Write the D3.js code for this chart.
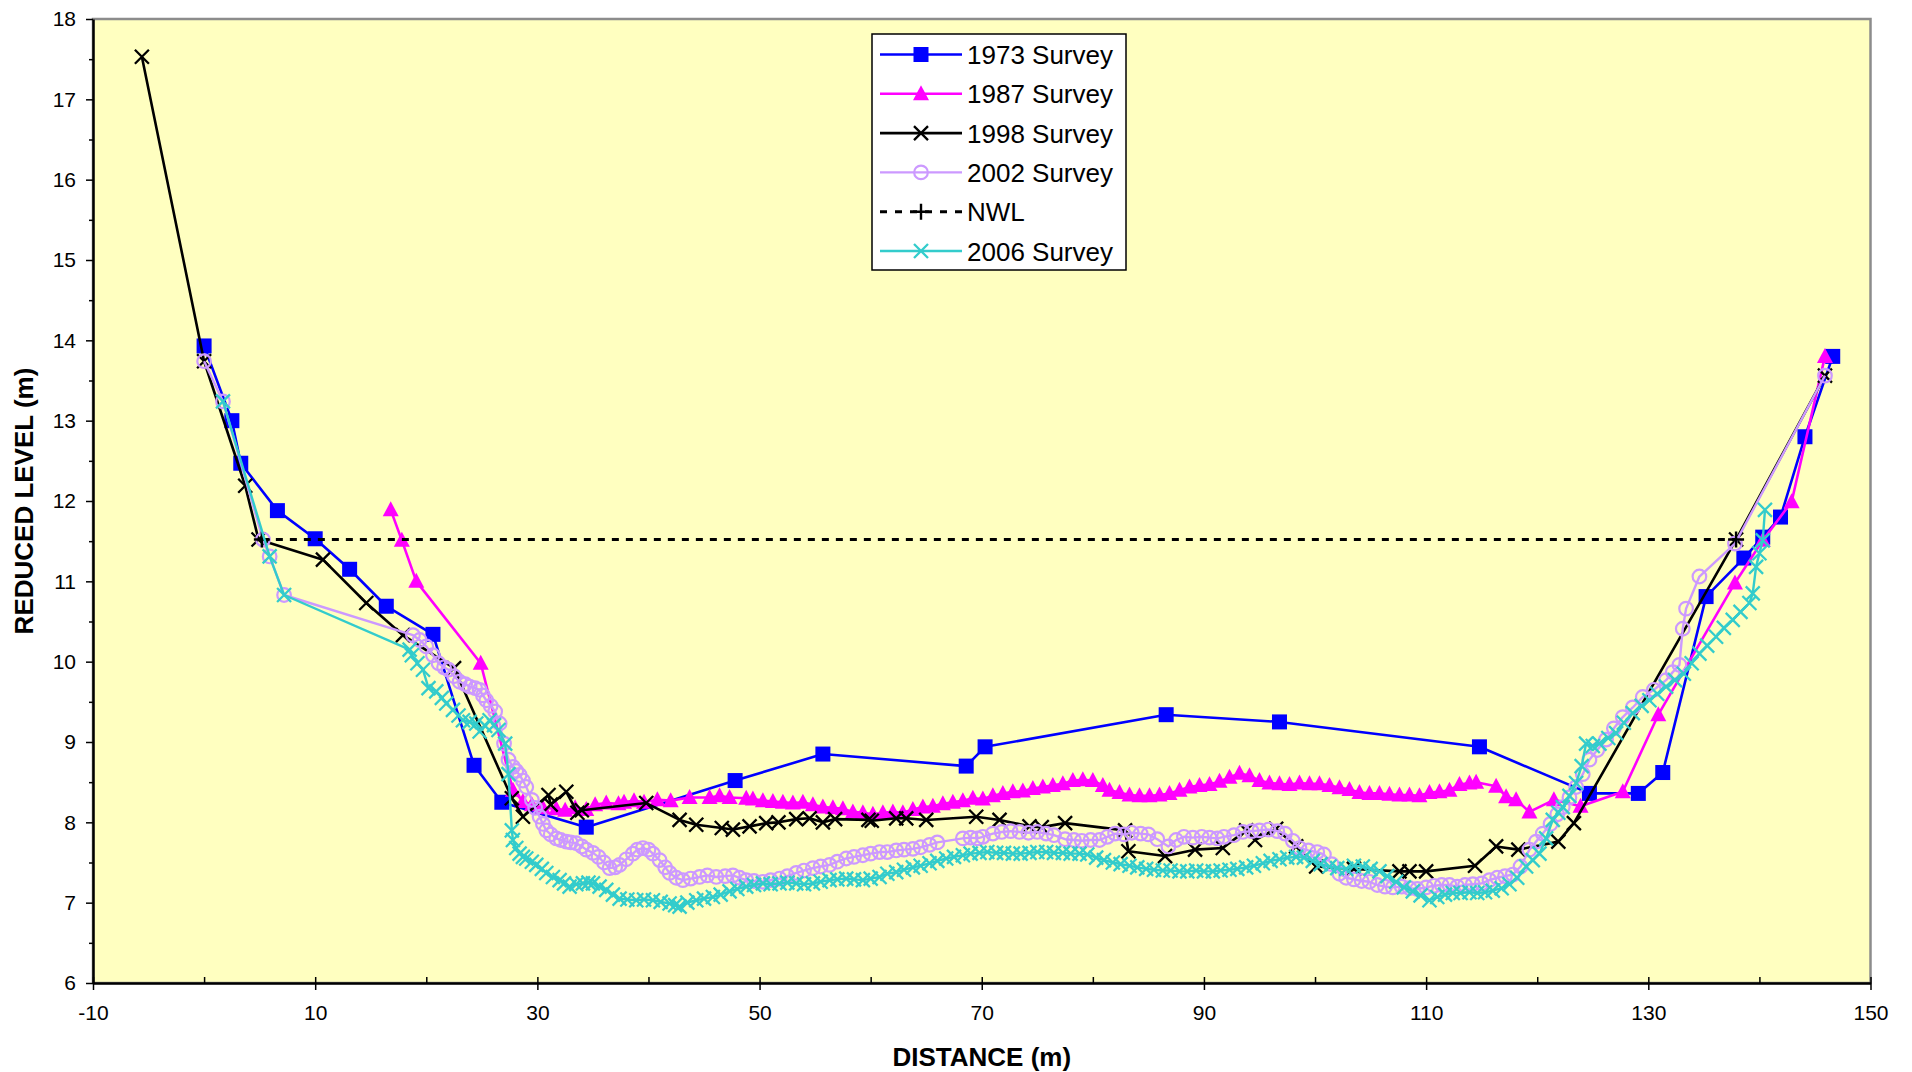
<!DOCTYPE html>
<html>
<head>
<meta charset="utf-8">
<script src="https://cdn.jsdelivr.net/npm/d3@7"></script>
<style>
  html, body { margin: 0; padding: 0; background: #ffffff; }
  svg { display: block; }
  text { font-family: "Liberation Sans", Arial, sans-serif; fill: #000; }
</style>
</head>
<body>
<svg id="chart" width="1912" height="1072"></svg>
<script>
// ---------------- DATA ----------------
const xTickValues = [-10, 10, 30, 50, 70, 90, 110, 130, 150];
const xMinorTicks = [0, 20, 40, 60, 80, 100, 120, 140];
const yTickValues = [6, 7, 8, 9, 10, 11, 12, 13, 14, 15, 16, 17, 18];
const yMinorTicks = [6.5, 7.5, 8.5, 9.5, 10.5, 11.5, 12.5, 13.5, 14.5, 15.5, 16.5, 17.5];

const seriesNames = ["1973 Survey", "1987 Survey", "1998 Survey", "2002 Survey", "NWL", "2006 Survey"];

const survey1973 = [[0,13.93],[2.5,13.0],[3.3,12.47],[6.6,11.88],[10.0,11.53],[13.1,11.15],[16.4,10.69],[20.6,10.34],[24.3,8.71],[26.8,8.25],[34.4,7.94],[47.8,8.52],[55.7,8.85],[68.6,8.70],[70.3,8.94],[86.6,9.34],[96.8,9.25],[114.8,8.94],[124.7,8.36],[129.1,8.36],[131.3,8.62],[135.2,10.81],[138.6,11.29],[140.3,11.55],[141.9,11.80],[144.1,12.80],[146.6,13.80]];

const survey1987 = [[16.8,11.89],[17.8,11.51],[19.1,11.00],[24.9,9.98],[27.8,8.40],[28.7,8.26],[29.5,8.22],[30.5,8.18],[31.7,8.17],[32.5,8.15],[33.4,8.18],[34.4,8.16],[35.2,8.22],[36.2,8.24],[37.3,8.23],[37.8,8.25],[38.7,8.27],[39.6,8.25],[40.8,8.28],[42.0,8.27],[43.7,8.31],[45.5,8.31],[46.4,8.33],[47.3,8.31],[48.8,8.30],[49.4,8.29],[50.3,8.27],[51.2,8.26],[52.1,8.25],[53.0,8.24],[53.9,8.25],[54.8,8.22],[55.7,8.19],[56.6,8.18],[57.5,8.17],[58.4,8.13],[59.3,8.12],[60.2,8.10],[61.1,8.12],[62.0,8.13],[62.9,8.12],[63.8,8.16],[64.7,8.19],[65.6,8.20],[66.5,8.23],[67.4,8.25],[68.3,8.27],[69.2,8.30],[70.1,8.29],[71.0,8.33],[71.9,8.36],[72.8,8.38],[73.7,8.39],[74.6,8.42],[75.5,8.44],[76.4,8.46],[77.3,8.48],[78.2,8.52],[79.1,8.53],[80.0,8.52],[80.9,8.46],[81.5,8.40],[82.4,8.37],[83.3,8.34],[84.2,8.33],[85.1,8.33],[86.0,8.34],[86.9,8.36],[87.8,8.40],[88.7,8.44],[89.6,8.46],[90.5,8.47],[91.4,8.51],[92.3,8.56],[93.2,8.61],[94.1,8.58],[95.0,8.52],[95.9,8.49],[96.8,8.48],[97.7,8.47],[98.6,8.49],[99.5,8.48],[100.4,8.48],[101.3,8.46],[102.2,8.43],[103.1,8.41],[104.0,8.37],[104.9,8.36],[105.8,8.36],[106.7,8.35],[107.6,8.34],[108.5,8.34],[109.4,8.33],[110.3,8.37],[111.2,8.38],[112.1,8.40],[113.0,8.47],[113.9,8.49],[114.5,8.50],[116.3,8.45],[117.2,8.32],[118.1,8.28],[119.3,8.13],[121.5,8.28],[123.9,8.20],[127.7,8.38],[130.9,9.34],[137.8,10.98],[140.3,11.51],[142.9,11.99],[145.9,13.80]];

const survey1998 = [[-5.6,17.53],[0,13.74],[3.7,12.19],[4.9,11.52],[10.7,11.27],[14.6,10.73],[17.9,10.33],[22.5,9.92],[27.7,8.30],[28.7,8.07],[31.0,8.34],[31.2,8.22],[32.6,8.38],[33.6,8.12],[34.0,8.15],[39.8,8.24],[42.8,8.03],[44.3,7.97],[46.6,7.93],[47.6,7.91],[49.1,7.95],[50.6,7.99],[51.7,8.00],[53.3,8.04],[54.5,8.05],[55.7,8.00],[56.8,8.04],[59.8,8.03],[60.1,8.02],[62.3,8.05],[63.2,8.05],[65.0,8.03],[69.5,8.07],[71.6,8.03],[74.3,7.95],[75.4,7.94],[77.5,7.99],[82.9,7.90],[83.2,7.64],[86.5,7.58],[89.2,7.66],[91.7,7.68],[93.8,7.90],[94.6,7.78],[96.5,7.92],[98.3,7.70],[100.1,7.45],[103.5,7.42],[107.6,7.39],[108.5,7.39],[110.0,7.39],[114.4,7.46],[116.3,7.70],[118.3,7.66],[121.9,7.76],[123.3,7.99],[137.9,11.52],[145.9,13.56]];

const survey2002 = [[0,13.74],[1.7,13.24],[5.3,11.52],[5.9,11.31],[7.2,10.83],[18.8,10.33],[19.4,10.27],[20.0,10.19],[20.6,10.08],[21.1,9.98],[21.6,9.93],[22.0,9.90],[22.5,9.82],[23.0,9.75],[23.5,9.72],[23.9,9.69],[24.4,9.67],[24.8,9.65],[25.1,9.58],[25.4,9.52],[25.8,9.45],[26.2,9.38],[26.6,9.23],[27.0,8.98],[27.4,8.78],[27.8,8.69],[28.1,8.64],[28.4,8.59],[28.7,8.52],[29.0,8.44],[29.5,8.28],[29.8,8.18],[30.2,8.07],[30.5,7.98],[30.8,7.90],[31.2,7.85],[31.7,7.80],[32.1,7.78],[32.6,7.76],[33.0,7.75],[33.5,7.74],[34.0,7.70],[34.4,7.66],[35.0,7.62],[35.5,7.57],[36.0,7.50],[36.5,7.43],[37.0,7.44],[37.4,7.47],[38.0,7.54],[38.6,7.61],[39.0,7.66],[39.5,7.68],[40.0,7.66],[40.4,7.61],[41.0,7.53],[41.5,7.44],[41.9,7.37],[42.5,7.31],[43.1,7.28],[43.8,7.30],[44.6,7.32],[45.3,7.34],[46.1,7.32],[46.9,7.33],[47.6,7.34],[48.2,7.31],[48.8,7.28],[49.5,7.27],[50.3,7.26],[51.0,7.28],[51.8,7.30],[52.5,7.33],[53.3,7.37],[54.0,7.40],[54.8,7.43],[55.5,7.45],[56.3,7.47],[57.0,7.51],[57.8,7.55],[58.5,7.57],[59.3,7.59],[60.0,7.61],[60.8,7.63],[61.5,7.63],[62.3,7.65],[63.0,7.66],[63.8,7.67],[64.5,7.69],[65.3,7.72],[66.0,7.75],[68.3,7.80],[69.0,7.81],[69.6,7.80],[70.1,7.82],[71.0,7.86],[71.8,7.88],[72.6,7.89],[73.4,7.88],[74.2,7.87],[75.0,7.88],[75.8,7.86],[76.5,7.84],[77.5,7.79],[78.3,7.78],[79.0,7.77],[79.8,7.78],[80.6,7.78],[81.3,7.82],[82.0,7.86],[82.8,7.85],[83.5,7.87],[84.3,7.86],[85.0,7.85],[85.8,7.79],[86.8,7.70],[87.5,7.78],[88.2,7.82],[89.0,7.81],[89.8,7.82],[90.5,7.81],[91.2,7.80],[91.8,7.82],[92.7,7.84],[93.5,7.88],[94.3,7.89],[95.0,7.90],[95.8,7.91],[96.6,7.89],[97.3,7.86],[98.0,7.77],[98.6,7.68],[99.4,7.65],[100.2,7.63],[100.8,7.60],[101.5,7.48],[102.2,7.36],[102.8,7.31],[103.5,7.29],[104.2,7.27],[104.9,7.26],[105.6,7.22],[106.3,7.20],[107.0,7.19],[107.8,7.20],[108.5,7.18],[109.2,7.17],[110.0,7.19],[110.7,7.21],[111.4,7.22],[112.1,7.22],[112.8,7.20],[113.5,7.22],[114.2,7.23],[115.0,7.24],[115.7,7.28],[116.4,7.31],[117.1,7.33],[117.8,7.35],[118.5,7.45],[119.3,7.66],[119.9,7.76],[120.5,7.86],[121.2,7.98],[121.8,8.10],[122.3,8.19],[122.9,8.31],[123.5,8.44],[124.1,8.60],[124.7,8.78],[125.4,8.90],[126.2,9.03],[126.9,9.17],[127.7,9.31],[128.6,9.43],[129.5,9.56],[130.5,9.65],[131.6,9.77],[132.2,9.87],[132.8,9.96],[133.1,10.41],[133.4,10.66],[134.6,11.06],[137.8,11.47],[145.9,13.56]];

const nwl = [[5.2,11.52],[137.9,11.52]];

const survey2006 = [[1.7,13.24],[5.9,11.31],[7.2,10.83],[18.5,10.15],[18.7,10.08],[19.2,9.98],[19.7,9.90],[20.2,9.67],[20.9,9.63],[21.4,9.55],[21.8,9.48],[22.4,9.40],[22.9,9.33],[23.3,9.27],[23.9,9.25],[24.5,9.23],[24.8,9.13],[25.3,9.20],[25.7,9.27],[26.1,9.21],[26.5,9.15],[27.1,8.98],[27.4,8.60],[27.7,7.90],[27.8,7.78],[28.1,7.68],[28.4,7.61],[28.7,7.57],[29.0,7.55],[29.5,7.51],[29.9,7.47],[30.4,7.42],[30.8,7.37],[31.4,7.32],[32.0,7.28],[32.4,7.24],[32.9,7.20],[33.5,7.23],[34.1,7.24],[34.6,7.25],[35.0,7.24],[35.6,7.20],[36.2,7.16],[36.8,7.10],[37.4,7.05],[38.1,7.04],[38.9,7.03],[39.6,7.04],[40.4,7.03],[41.1,7.01],[41.9,6.99],[42.4,6.97],[42.8,6.95],[43.5,7.00],[44.3,7.03],[45.0,7.05],[45.8,7.07],[46.5,7.10],[47.3,7.14],[48.0,7.17],[48.8,7.20],[49.5,7.22],[50.3,7.24],[51.0,7.23],[51.8,7.24],[52.5,7.25],[53.3,7.24],[54.0,7.23],[54.8,7.24],[55.5,7.26],[56.3,7.28],[57.0,7.29],[57.8,7.30],[58.5,7.29],[59.3,7.28],[60.0,7.30],[60.8,7.32],[61.5,7.36],[62.3,7.38],[63.0,7.41],[63.8,7.44],[64.5,7.46],[65.3,7.49],[66.0,7.52],[66.8,7.55],[67.5,7.57],[68.3,7.59],[69.0,7.61],[69.8,7.62],[70.5,7.63],[71.3,7.62],[72.0,7.62],[72.8,7.61],[73.5,7.61],[74.3,7.62],[75.0,7.63],[75.8,7.63],[76.5,7.62],[77.3,7.62],[78.0,7.61],[78.8,7.61],[79.5,7.60],[80.3,7.56],[81.0,7.53],[81.8,7.50],[82.5,7.48],[83.3,7.46],[84.0,7.44],[84.8,7.42],[85.5,7.41],[86.3,7.40],[87.0,7.40],[87.8,7.39],[88.5,7.39],[89.3,7.40],[90.0,7.39],[90.8,7.39],[91.5,7.40],[92.3,7.41],[93.0,7.42],[93.8,7.44],[94.5,7.46],[95.3,7.49],[96.0,7.52],[96.8,7.54],[97.5,7.56],[98.3,7.57],[99.0,7.56],[99.8,7.52],[100.5,7.48],[101.3,7.45],[102.0,7.43],[102.8,7.42],[103.5,7.46],[104.3,7.45],[105.0,7.42],[105.8,7.39],[106.5,7.33],[107.3,7.26],[108.0,7.19],[108.8,7.14],[109.5,7.09],[110.3,7.03],[111.0,7.07],[111.7,7.10],[112.4,7.12],[113.1,7.12],[113.9,7.13],[114.6,7.12],[115.3,7.13],[116.0,7.15],[116.8,7.18],[117.5,7.23],[118.2,7.31],[119.0,7.45],[119.6,7.53],[120.2,7.61],[120.8,7.80],[121.4,8.03],[121.9,8.12],[122.3,8.19],[122.9,8.33],[123.5,8.49],[124.0,8.70],[124.4,8.98],[125.0,8.95],[125.6,8.98],[126.4,9.05],[127.1,9.11],[127.8,9.24],[128.6,9.36],[129.4,9.45],[130.1,9.52],[130.8,9.60],[131.6,9.69],[132.4,9.77],[133.2,9.85],[133.9,9.98],[134.6,10.10],[135.3,10.20],[136.1,10.31],[136.8,10.42],[137.6,10.52],[138.3,10.62],[139.1,10.73],[139.4,10.85],[139.7,11.18],[140.0,11.35],[140.3,11.51],[140.5,11.89]];

// ---------------- LAYOUT / STYLE ----------------
const plot = { left: 93, right: 1870.5, top: 19, bottom: 983 };

const styles = [
  { name: seriesNames[0], data: survey1973, color: "#0000FF", width: 2.6, marker: "square" },
  { name: seriesNames[1], data: survey1987, color: "#FF00FF", width: 2.6, marker: "triangle" },
  { name: seriesNames[2], data: survey1998, color: "#000000", width: 2.6, marker: "x" },
  { name: seriesNames[3], data: survey2002, color: "#CC99FF", width: 2.4, marker: "circle" },
  { name: seriesNames[4], data: nwl, color: "#000000", width: 3, marker: "plus", dash: "7,7" },
  { name: seriesNames[5], data: survey2006, color: "#33CCCC", width: 2.4, marker: "xcyan" }
];

const svg = d3.select("#chart");

const x = d3.scaleLinear().domain([-10, 150]).range([plot.left, plot.right]);
const y = d3.scaleLinear().domain([6, 18]).range([plot.bottom, plot.top]);
const plainFmt = d => String(d);

// plot area
svg.append("rect")
  .attr("x", plot.left).attr("y", plot.top)
  .attr("width", plot.right - plot.left).attr("height", plot.bottom - plot.top)
  .attr("fill", "#FFFFC0").attr("stroke", "#8c8c8c").attr("stroke-width", 2.5);

// axes
const xAxisMajor = d3.axisBottom(x).tickValues(xTickValues).tickSizeInner(6).tickSizeOuter(0).tickFormat(plainFmt);
const gx = svg.append("g").attr("transform", `translate(0,${plot.bottom})`).call(xAxisMajor);
gx.select(".domain").attr("stroke", "#000").attr("stroke-width", 2.5);
gx.selectAll(".tick line").attr("stroke", "#000").attr("stroke-width", 1.5).attr("y1", -6).attr("y2", 7);
gx.selectAll(".tick text").attr("font-size", 21).attr("dy", 0).attr("y", 37)
  .style("font-family", '"Liberation Sans", Arial, sans-serif');

const xAxisMinor = d3.axisTop(x).tickValues(xMinorTicks).tickSize(6).tickFormat("");
const gxm = svg.append("g").attr("transform", `translate(0,${plot.bottom})`).call(xAxisMinor);
gxm.select(".domain").remove();
gxm.selectAll(".tick line").attr("stroke", "#000").attr("stroke-width", 1.5);

const yAxisMajor = d3.axisLeft(y).tickValues(yTickValues).tickSizeInner(7).tickSizeOuter(0).tickPadding(10).tickFormat(plainFmt);
const gy = svg.append("g").attr("transform", `translate(${plot.left},0)`).call(yAxisMajor);
gy.select(".domain").attr("stroke", "#000").attr("stroke-width", 2.5);
gy.selectAll(".tick line").attr("stroke", "#000").attr("stroke-width", 1.5);
gy.selectAll(".tick text").attr("font-size", 21)
  .style("font-family", '"Liberation Sans", Arial, sans-serif');

const yAxisMinor = d3.axisLeft(y).tickValues(yMinorTicks).tickSize(4).tickFormat("");
const gym = svg.append("g").attr("transform", `translate(${plot.left},0)`).call(yAxisMinor);
gym.select(".domain").remove();
gym.selectAll(".tick line").attr("stroke", "#000").attr("stroke-width", 1.5);

// axis titles
svg.append("text")
  .attr("x", (plot.left + plot.right) / 2).attr("y", 1066)
  .attr("text-anchor", "middle").attr("font-size", 26).attr("font-weight", "bold")
  .text("DISTANCE (m)");
svg.append("text")
  .attr("transform", `translate(33,${(plot.top + plot.bottom) / 2}) rotate(-90)`)
  .attr("text-anchor", "middle").attr("font-size", 26).attr("font-weight", "bold")
  .text("REDUCED LEVEL (m)");

// markers
function drawMarker(g, type, color, cx, cy) {
  if (type === "square") {
    g.append("rect").attr("x", cx - 7.5).attr("y", cy - 7.5).attr("width", 15).attr("height", 15)
      .attr("fill", color);
  } else if (type === "triangle") {
    g.append("path").attr("d", `M${cx},${cy - 8.5}L${cx + 8},${cy + 6.5}L${cx - 8},${cy + 6.5}Z`)
      .attr("fill", color);
  } else if (type === "x" || type === "xcyan") {
    g.append("path").attr("d", `M${cx - 7},${cy - 7}L${cx + 7},${cy + 7}M${cx - 7},${cy + 7}L${cx + 7},${cy - 7}`)
      .attr("stroke", color).attr("stroke-width", 2.3).attr("fill", "none");
  } else if (type === "circle") {
    g.append("circle").attr("cx", cx).attr("cy", cy).attr("r", 6.8)
      .attr("stroke", color).attr("stroke-width", 2.2).attr("fill", "none");
  } else if (type === "plus") {
    g.append("path").attr("d", `M${cx - 8},${cy}L${cx + 8},${cy}M${cx},${cy - 8}L${cx},${cy + 8}`)
      .attr("stroke", color).attr("stroke-width", 2.4).attr("fill", "none");
  }
}

const line = d3.line().x(d => x(d[0])).y(d => y(d[1]));
const plotG = svg.append("g");
styles.forEach(s => {
  const g = plotG.append("g");
  g.append("path").datum(s.data).attr("d", line)
    .attr("fill", "none").attr("stroke", s.color).attr("stroke-width", s.width)
    .attr("stroke-dasharray", s.dash || null).attr("stroke-linejoin", "round");
  const mg = g.append("g");
  s.data.forEach(d => drawMarker(mg, s.marker, s.color, x(d[0]), y(d[1])));
});

// legend
const lg = svg.append("g");
lg.append("rect").attr("x", 872).attr("y", 34).attr("width", 254).attr("height", 236)
  .attr("fill", "#ffffff").attr("stroke", "#000").attr("stroke-width", 1.5);
styles.forEach((s, i) => {
  const cy = 54.5 + i * 39.3;
  lg.append("line").attr("x1", 880).attr("x2", 962).attr("y1", cy).attr("y2", cy)
    .attr("stroke", s.color).attr("stroke-width", s.width)
    .attr("stroke-dasharray", s.dash ? "7,8" : null);
  drawMarker(lg, s.marker, s.color, 921, cy);
  lg.append("text").attr("x", 967).attr("y", cy + 9.5).attr("font-size", 26).text(s.name);
});
</script>
</body>
</html>
